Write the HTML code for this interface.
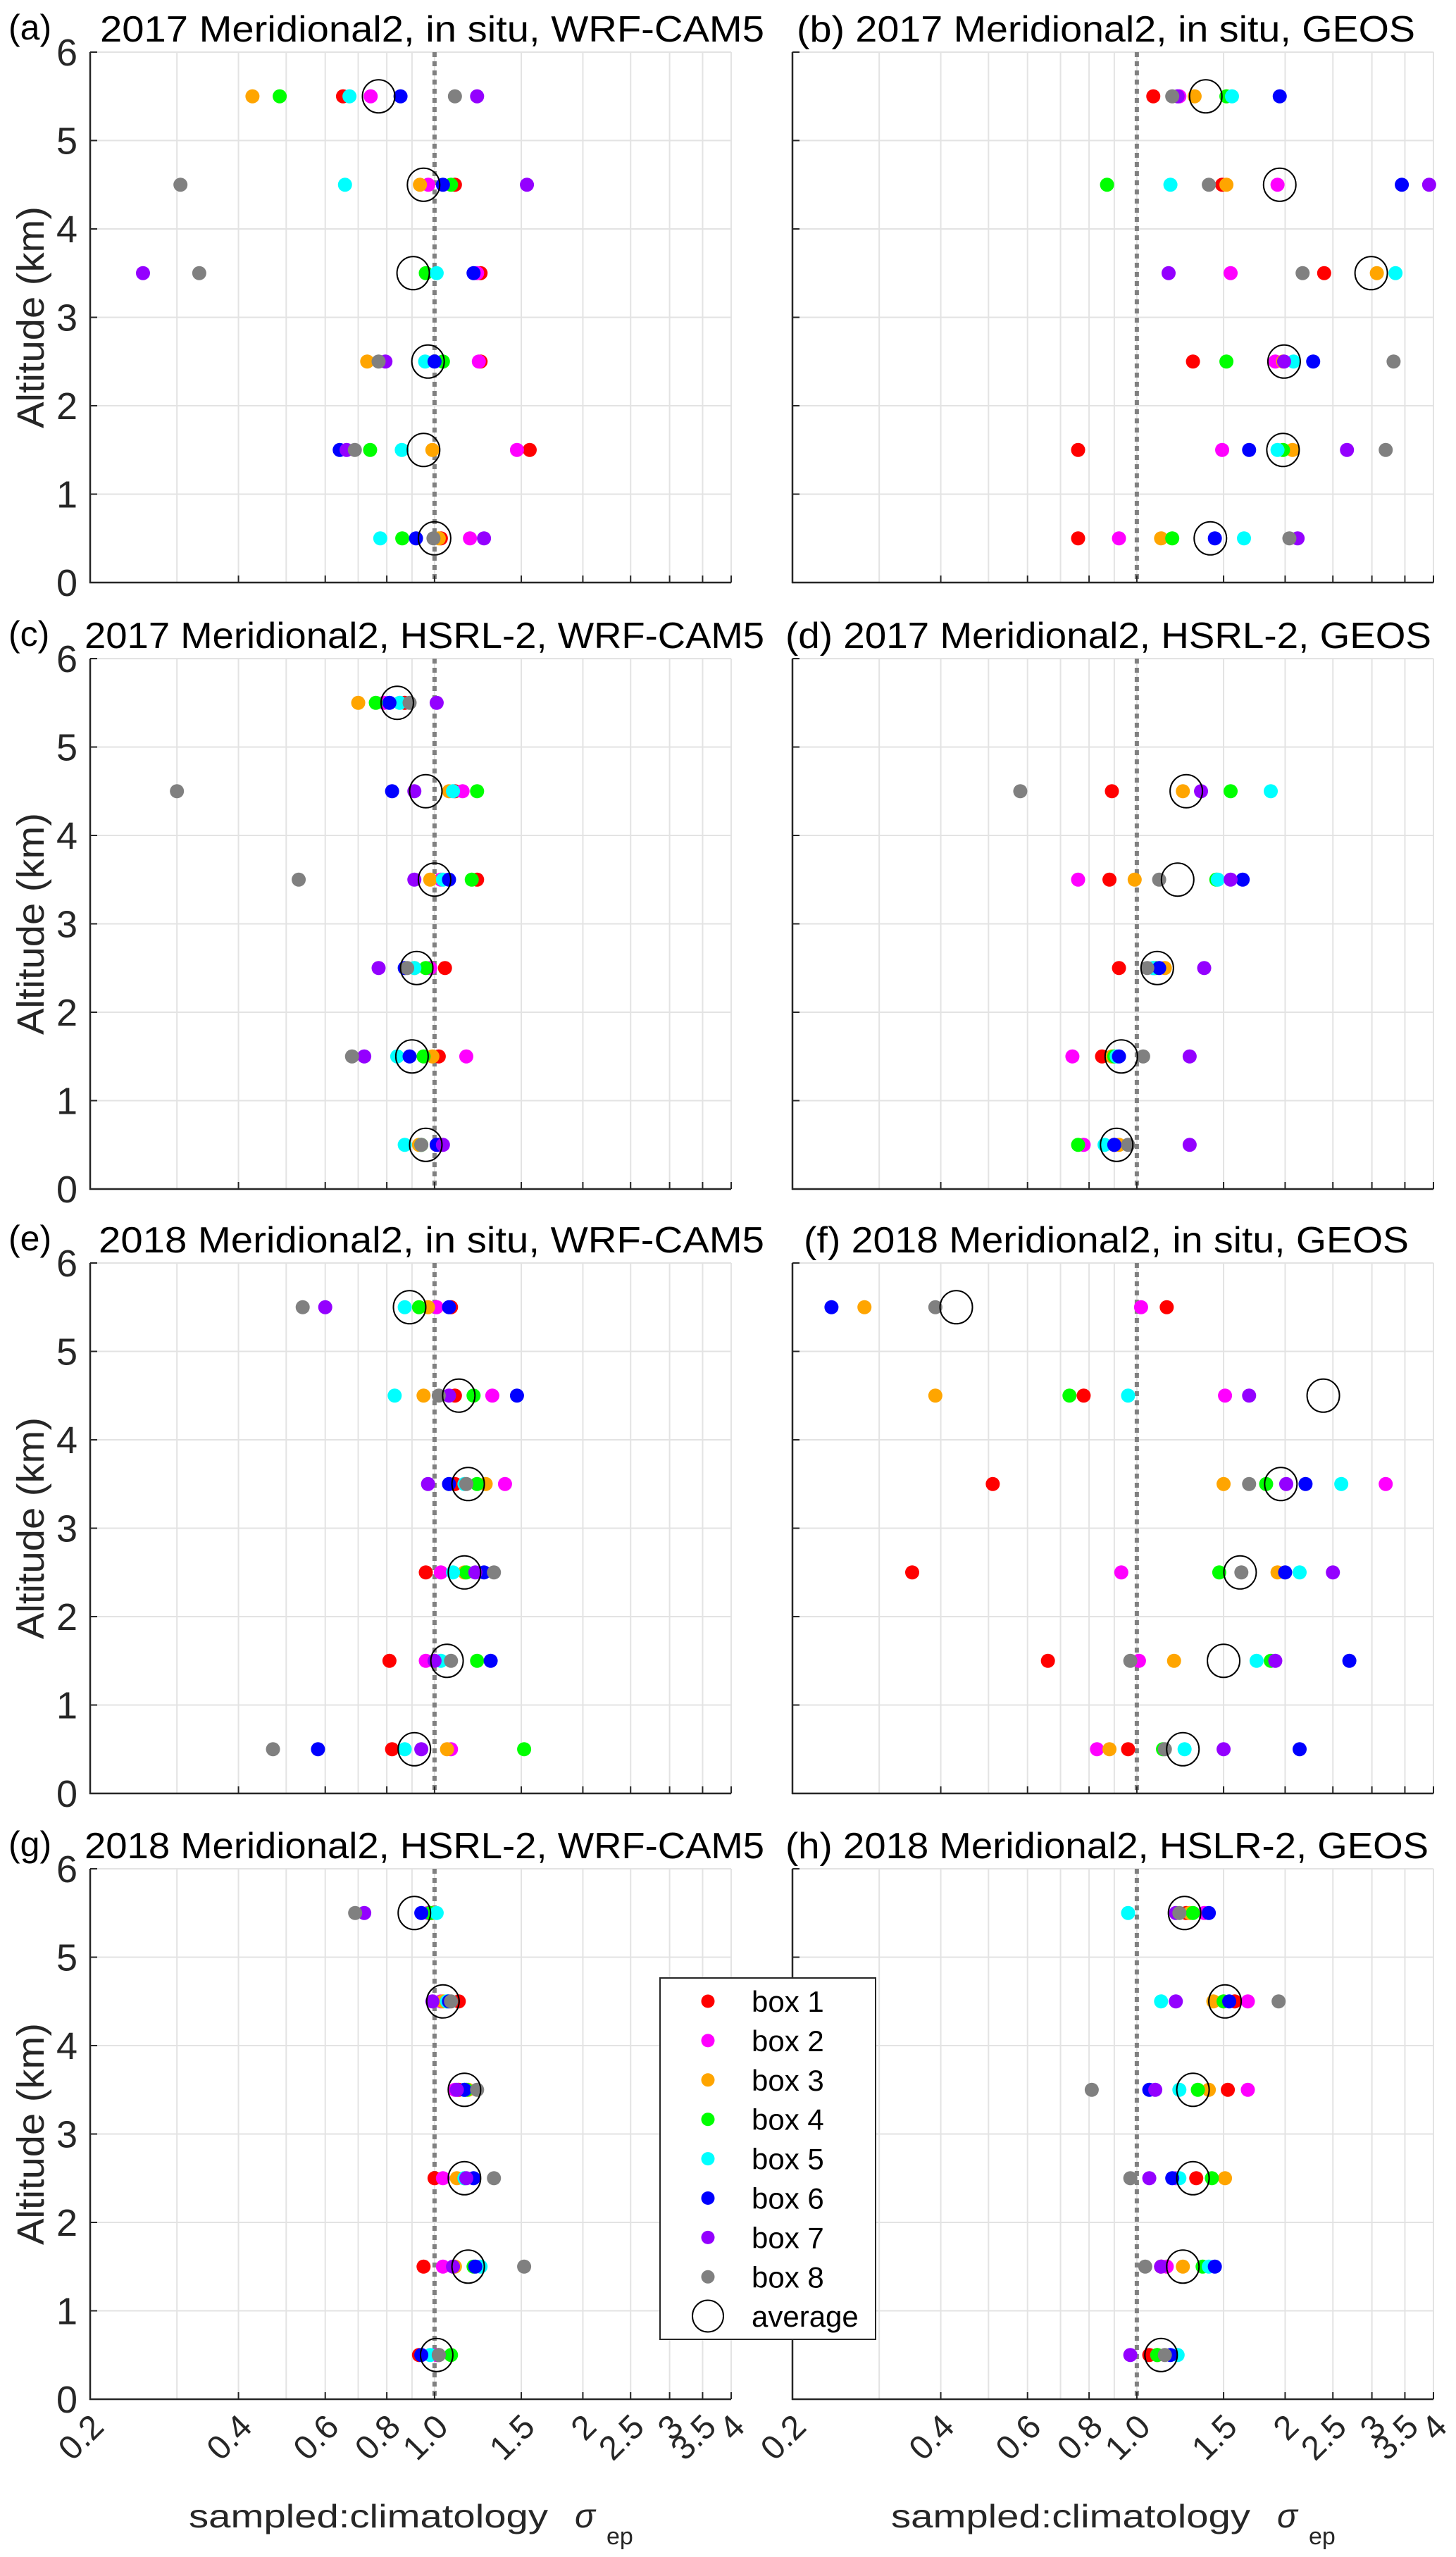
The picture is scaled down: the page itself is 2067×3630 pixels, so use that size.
<!DOCTYPE html>
<html>
<head>
<meta charset="utf-8">
<style>
  html,body{margin:0;padding:0;background:#fff;}
  svg{display:block;font-family:"Liberation Sans",Arial,sans-serif;}
</style>
</head>
<body>
<svg id="fig" xmlns="http://www.w3.org/2000/svg" width="2067" height="3630" viewBox="0 0 2067 3630">
  <rect x="0" y="0" width="2067" height="3630" fill="#ffffff"/>
</svg>
<script>
const altitudes = [0.5, 1.5, 2.5, 3.5, 4.5, 5.5];
const xTickValues = [0.2, 0.4, 0.6, 0.8, 1.0, 1.5, 2, 2.5, 3, 3.5, 4];
const xTickLabels = ["0.2", "0.4", "0.6", "0.8", "1.0", "1.5", "2", "2.5", "3", "3.5", "4"];
const xGridValues = [0.3, 0.4, 0.5, 0.6, 0.7, 0.8, 0.9, 1.0, 1.5, 2, 2.5, 3, 3.5, 4];
const yTickValues = [0, 1, 2, 3, 4, 5, 6];
const boxNames = ["box 1", "box 2", "box 3", "box 4", "box 5", "box 6", "box 7", "box 8"];
const boxColors = ["#ff0000", "#ff00ff", "#ffa500", "#00ff00", "#00ffff", "#0000ff", "#9400ff", "#808080"];

// panel (a)
const a_boxes = [
  [1.03, 1.56, 1.24, 1.24, 1.10, 0.652],
  [1.18, 1.47, 1.23, 1.22, 0.971, 0.742],
  [1.02, 0.99, 0.73, null, 0.934, 0.427],
  [0.86, 0.74, 1.04, 0.96, 1.08, 0.485],
  [0.776, 0.858, 0.957, 1.01, 0.658, 0.672],
  [0.917, 0.642, 1.0, 1.20, 1.04, 0.853],
  [1.26, 0.663, 0.795, 0.256, 1.54, 1.22],
  [0.995, 0.689, 0.77, 0.333, 0.305, 1.10]
];
const a_avg = [1.0, 0.95, 0.97, 0.905, 0.95, 0.77];
// panel (b)
const b_boxes = [
  [0.76, 0.76, 1.30, 2.4, 1.49, 1.08],
  [0.92, 1.49, 1.91, 1.55, 1.93, 1.22],
  [1.12, 2.07, 1.98, 3.07, 1.52, 1.31],
  [1.18, 1.98, 1.52, null, 0.87, 1.52],
  [1.65, 1.93, 2.08, 3.35, 1.17, 1.56],
  [1.44, 1.69, 2.28, null, 3.45, 1.95],
  [2.12, 2.67, 1.99, 1.16, 3.92, 1.21],
  [2.04, 3.2, 3.32, 2.17, 1.4, 1.18]
];
const b_avg = [1.41, 1.98, 1.99, 2.99, 1.95, 1.38];
// panel (c)
const c_boxes = [
  [1.01, 1.02, 1.05, 1.22, 1.10, 0.87],
  [1.02, 1.16, 0.98, 1.03, 1.14, 0.79],
  [0.93, 0.99, 0.91, 0.98, 1.07, 0.70],
  [0.94, 0.95, 0.96, 1.19, 1.22, 0.76],
  [0.87, 0.84, 0.91, 1.04, 1.09, 0.85],
  [1.01, 0.89, 0.87, 1.07, 0.82, 0.81],
  [1.04, 0.72, 0.77, 0.91, 0.91, 1.01],
  [0.94, 0.68, 0.88, 0.53, 0.30, 0.89]
];
const c_avg = [0.96, 0.90, 0.92, 1.0, 0.96, 0.84];
// panel (d)
const d_boxes = [
  [0.9, 0.85, 0.92, 0.88, 0.89, null],
  [0.78, 0.74, 1.08, 0.76, null, null],
  [0.92, 0.89, 1.14, 0.99, 1.24, null],
  [0.76, 0.90, 1.09, 1.45, 1.55, null],
  [0.86, 0.91, 1.08, 1.46, 1.87, null],
  [0.9, 0.92, 1.11, 1.64, null, null],
  [1.28, 1.28, 1.37, 1.55, 1.35, null],
  [0.96, 1.03, 1.05, 1.11, 0.58, null]
];
const d_avg = [0.91, 0.93, 1.1, 1.21, 1.26, null];
// panel (e)
const e_boxes = [
  [0.82, 0.81, 0.96, 1.1, 1.1, 1.08],
  [1.08, 0.96, 1.03, 1.39, 1.31, 1.01],
  [1.06, 1.0, 1.15, 1.27, 0.95, 0.97],
  [1.52, 1.22, 1.16, 1.22, 1.2, 0.93],
  [0.87, 1.03, 1.09, 1.15, 0.83, 0.87],
  [0.58, 1.30, 1.26, 1.07, 1.47, 1.07],
  [0.94, 1.0, 1.21, 0.97, 1.07, 0.60],
  [0.47, 1.08, 1.32, 1.16, 1.02, 0.54]
];
const e_avg = [0.91, 1.06, 1.15, 1.17, 1.12, 0.89];
// panel (f)
const f_boxes = [
  [0.96, 0.66, 0.35, 0.51, 0.78, 1.15],
  [0.83, 1.01, 0.93, 3.2, 1.51, 1.02],
  [0.88, 1.19, 1.93, 1.5, 0.39, 0.28],
  [1.13, 1.87, 1.47, 1.83, 0.73, null],
  [1.25, 1.75, 2.14, 2.6, 0.96, null],
  [2.14, 2.7, 2.0, 2.2, null, 0.24],
  [1.5, 1.91, 2.5, 2.01, 1.69, null],
  [1.14, 0.97, 1.63, 1.69, null, 0.39]
];
const f_avg = [1.24, 1.5, 1.62, 1.96, 2.39, 0.43];
// panel (g)
const g_boxes = [
  [0.93, 0.95, 1.0, 1.12, 1.12, 0.98],
  [1.01, 1.04, 1.04, 1.1, 1.03, 0.97],
  [1.02, 1.1, 1.11, 1.17, 1.04, 0.99],
  [1.08, 1.2, 1.15, 1.16, 1.06, 0.98],
  [0.98, 1.24, 1.15, 1.15, 1.06, 1.01],
  [0.94, 1.21, 1.2, 1.15, 1.07, 0.94],
  [1.02, 1.09, 1.16, 1.11, 0.99, 0.72],
  [1.02, 1.52, 1.32, 1.22, 1.08, 0.69]
];
const g_avg = [1.01, 1.17, 1.15, 1.15, 1.04, 0.91];
// panel (h)
const h_boxes = [
  [1.06, 1.12, 1.32, 1.53, 1.58, 1.26],
  [1.1, 1.15, 1.2, 1.68, 1.68, 1.37],
  [1.1, 1.24, 1.51, 1.4, 1.43, 1.28],
  [1.1, 1.36, 1.42, 1.33, 1.5, 1.3],
  [1.21, 1.4, 1.22, 1.22, 1.12, 0.96],
  [1.17, 1.44, 1.18, 1.06, 1.54, 1.40],
  [0.97, 1.12, 1.06, 1.09, 1.2, 1.20],
  [1.14, 1.04, 0.97, 0.81, 1.94, 1.22]
];
const h_avg = [1.12, 1.24, 1.3, 1.3, 1.51, 1.25];

const panelTitles = [
  "2017 Meridional2, in situ, WRF-CAM5", "(b) 2017 Meridional2, in situ, GEOS",
  "2017 Meridional2, HSRL-2, WRF-CAM5", "(d) 2017 Meridional2, HSRL-2, GEOS",
  "2018 Meridional2, in situ, WRF-CAM5", "(f) 2018 Meridional2, in situ, GEOS",
  "2018 Meridional2, HSRL-2, WRF-CAM5", "(h) 2018 Meridional2, HSLR-2, GEOS"
];
const panelLetters = ["(a)", "(b)", "(c)", "(d)", "(e)", "(f)", "(g)", "(h)"];

const NS = "http://www.w3.org/2000/svg";
const svg = document.getElementById("fig");
function mk(tag, attrs, parent) {
  const el = document.createElementNS(NS, tag);
  for (const k in attrs) el.setAttribute(k, attrs[k]);
  (parent || svg).appendChild(el);
  return el;
}

const colX = [128, 1125];
const rowTop = [74, 935, 1793, 2653];
const PW = 910, PH = 753;
const XMIN = 0.2, XMAX = 4, YMAX = 6;
function makeX(x0) { return v => x0 + PW * Math.log(v / XMIN) / Math.log(XMAX / XMIN); }
function makeY(top) { return a => top + PH * (1 - a / YMAX); }

const panels = [
  [a_boxes, a_avg], [b_boxes, b_avg], [c_boxes, c_avg], [d_boxes, d_avg],
  [e_boxes, e_avg], [f_boxes, f_avg], [g_boxes, g_avg], [h_boxes, h_avg]
];
const titleGeom = [
  [142, 943], [1131, 878], [120, 965], [1115, 917],
  [140, 945], [1141, 859], [120, 965], [1115, 913]
];

panels.forEach((p, i) => {
  const col = i % 2, row = Math.floor(i / 2);
  const x0 = colX[col], top = rowTop[row], bottom = top + PH;
  const xs = makeX(x0), ys = makeY(top);
  const g = mk("g", {});
  
  

  // grid
  xGridValues.forEach(v => {
    const l = mk("line", {x1: xs(v), x2: xs(v), y1: top, y2: bottom, stroke: "#e3e3e3", "stroke-width": 2}, g);
    
    
  });
  yTickValues.forEach(t => {
    if (t === 0) return;
    const l = mk("line", {x1: x0, x2: x0 + PW, y1: ys(t), y2: ys(t), stroke: "#e3e3e3", "stroke-width": 2}, g);
    
    
  });
  // reference line at 1.0
  const ref = mk("line", {x1: xs(1), x2: xs(1), y1: top, y2: bottom, stroke: "#808080", "stroke-width": 6, "stroke-dasharray": "7 6"}, g);
  
  

  // axes
  const ya = mk("line", {x1: x0, x2: x0, y1: top, y2: bottom + 1, stroke: "#262626", "stroke-width": 2.5}, g);
  
  
  const xa = mk("line", {x1: x0 - 1, x2: x0 + PW, y1: bottom, y2: bottom, stroke: "#262626", "stroke-width": 2.5}, g);
  
  
  xTickValues.forEach(v => {
    const t = mk("line", {x1: xs(v), x2: xs(v), y1: bottom, y2: bottom - 10, stroke: "#262626", "stroke-width": 2}, g);
    
    
  });
  yTickValues.forEach(tv => {
    const t = mk("line", {x1: x0, x2: x0 + 10, y1: ys(tv), y2: ys(tv), stroke: "#262626", "stroke-width": 2}, g);
    
    
    if (col === 0) {
      const tl = mk("text", {x: x0 - 18, y: ys(tv) + 19, "text-anchor": "end", "font-size": 54, fill: "#262626"}, g);
      tl.textContent = String(tv);
      
      
    }
  });
  if (col === 0) {
    const yt = mk("text", {x: 0, y: 0, "text-anchor": "middle", "font-size": 54, fill: "#262626",
      transform: "translate(62," + (top + PH / 2) + ") rotate(-90)", textLength: 315, lengthAdjust: "spacingAndGlyphs"}, g);
    yt.textContent = "Altitude (km)";
    
    
  }
  if (row === 3) {
    xTickValues.forEach((v, k) => {
      const cx = xs(v) + 22, cy = bottom + 42;
      const tl = mk("text", {x: cx, y: cy, "text-anchor": "end", "font-size": 48, fill: "#262626",
        transform: "rotate(-45 " + cx + " " + cy + ")"}, g);
      tl.textContent = xTickLabels[k];
      
      
    });
    const xt = mk("text", {x: x0 + 140, y: 3588, "font-size": 46, fill: "#262626", textLength: 510, lengthAdjust: "spacingAndGlyphs"}, g);
    xt.textContent = "sampled:climatology";
    
    
    const sg = mk("text", {x: x0 + 688, y: 3588, "font-size": 48, "font-style": "italic", fill: "#262626"}, g);
    sg.textContent = "σ";
    
    
    const sb = mk("text", {x: x0 + 733, y: 3612, "font-size": 34, fill: "#262626"}, g);
    sb.textContent = "ep";
    
    
  }

  // title
  if (col === 0) {
    const lt = mk("text", {x: 12, y: top - 18, "font-size": 50, fill: "#000"}, g);
    lt.textContent = panelLetters[i];
    
    
  }
  const tg = titleGeom[i];
  const tt = mk("text", {x: tg[0], y: top - 15, "font-size": 52, fill: "#000", textLength: tg[1], lengthAdjust: "spacingAndGlyphs"}, g);
  tt.textContent = panelTitles[i];
  
  

  // markers
  const boxes = p[0], avg = p[1];
  boxes.forEach((series, b) => {
    series.forEach((v, r) => {
      if (v === null) return;
      const c = mk("circle", {cx: xs(v), cy: ys(altitudes[r]), r: 10, fill: boxColors[b]}, g);
      
      
    });
  });
  avg.forEach((v, r) => {
    if (v === null) return;
    const c = mk("ellipse", {cx: xs(v), cy: ys(altitudes[r]), rx: 23, ry: 23.5, fill: "none", stroke: "#000", "stroke-width": 2}, g);
    
    
  });
});

// legend
const lg = mk("g", {});


const lbox = mk("rect", {x: 937, y: 2808, width: 306, height: 513, fill: "#fff", stroke: "#262626", "stroke-width": 2}, lg);


boxNames.forEach((nm, k) => {
  const yy = 2841 + k * 55.9;
  const d = mk("circle", {cx: 1005, cy: yy, r: 9.5, fill: boxColors[k]}, lg);
  
  
  const t = mk("text", {x: 1067, y: yy + 15, "font-size": 42, fill: "#000"}, lg);
  t.textContent = nm;
  
  
});
const la = mk("ellipse", {cx: 1005, cy: 3288, rx: 22, ry: 22.5, fill: "none", stroke: "#000", "stroke-width": 2}, lg);


const lat = mk("text", {x: 1067, y: 3303, "font-size": 42, fill: "#000"}, lg);
lat.textContent = "average";


</script>
</body>
</html>
